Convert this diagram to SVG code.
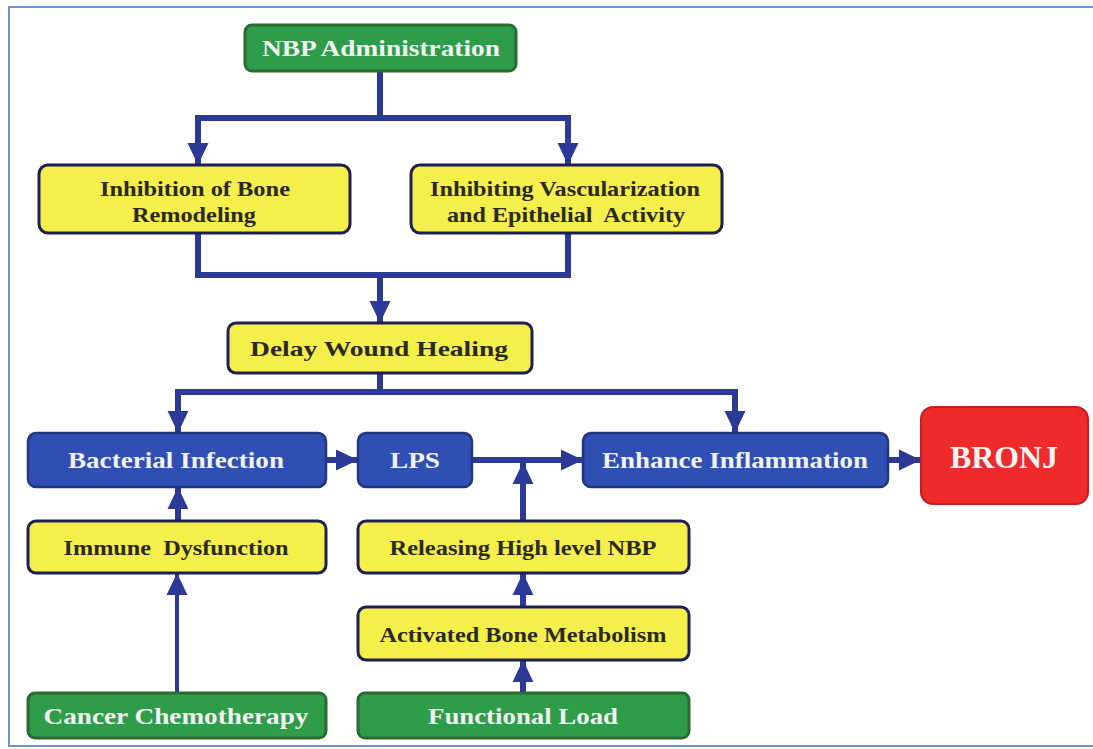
<svg xmlns="http://www.w3.org/2000/svg" width="1093" height="749" viewBox="0 0 1093 749">
<defs>
<style>
.frame{fill:none;stroke:#6f95c8;stroke-width:2}
.y{fill:#f4ef4b;stroke:#1f1f55;stroke-width:3}
.b{fill:#2f4fb2;stroke:#24357f;stroke-width:2.5}
.g{fill:#2e9c48;stroke:#2a6a33;stroke-width:3}
.r{fill:#ee2a2a;stroke:#c41e1e;stroke-width:2}
.t{font-family:"Liberation Serif","Times New Roman",serif;font-weight:bold;text-anchor:middle;dominant-baseline:central}
.ty{fill:#2a2a22;font-size:22px}
.tw{fill:#f2f2f2;font-size:23px}
.c{fill:none;stroke:#2b3a96;stroke-width:6}
.c2{fill:none;stroke:#2b3a96;stroke-width:4}
</style>
<marker id="ah" markerUnits="userSpaceOnUse" markerWidth="22" markerHeight="22" viewBox="0 0 20 20" refX="20" refY="10" orient="auto">
<path d="M0,0.5 L20,10 L0,19.5 Z" fill="#2b3a96"/>
</marker>
</defs>
<rect width="1093" height="749" fill="#ffffff"/>
<path class="frame" d="M1093,7 H9 V746 H1093"/>

<g id="connectors">
<path class="c" d="M380,70 V118"/>
<path class="c" d="M380,118 H198 V165" marker-end="url(#ah)"/>
<path class="c" d="M380,118 H568 V165" marker-end="url(#ah)"/>
<path class="c" d="M198,233 V275 H568 V233"/>
<path class="c" d="M380,275 V323" marker-end="url(#ah)"/>
<path class="c" d="M380,372 V392"/>
<path class="c" d="M380,392 H178 V433" marker-end="url(#ah)"/>
<path class="c" d="M380,392 H735 V433" marker-end="url(#ah)"/>
<path class="c" d="M326,460 H358" marker-end="url(#ah)"/>
<path class="c" d="M472,460 H583" marker-end="url(#ah)"/>
<path class="c" d="M888,460 H921" marker-end="url(#ah)"/>
<path class="c" d="M523,521 V462" marker-end="url(#ah)"/>
<path class="c" d="M178,520 V487" marker-end="url(#ah)"/>
<path class="c2" d="M177,693 V573" marker-end="url(#ah)"/>
<path class="c" d="M523,607 V573" marker-end="url(#ah)"/>
<path class="c" d="M523,693 V660" marker-end="url(#ah)"/>
</g>

<g id="nbp">
<rect class="g" x="245" y="25" width="271" height="46" rx="7"/>
<text class="t tw" x="381" y="48" textLength="238" lengthAdjust="spacingAndGlyphs">NBP Administration</text>
</g>
<g id="inhibition-bone">
<rect class="y" x="39" y="165" width="311" height="68" rx="9"/>
<text class="t ty" x="195" y="188" textLength="190" lengthAdjust="spacingAndGlyphs">Inhibition of Bone</text>
<text class="t ty" x="194" y="214" textLength="124" lengthAdjust="spacingAndGlyphs">Remodeling</text>
</g>
<g id="inhibiting-vasc">
<rect class="y" x="411" y="165" width="311" height="68" rx="9"/>
<text class="t ty" x="565" y="188" textLength="270" lengthAdjust="spacingAndGlyphs">Inhibiting Vascularization</text>
<text class="t ty" x="566" y="214" textLength="238" lengthAdjust="spacingAndGlyphs" xml:space="preserve">and Epithelial  Activity</text>
</g>
<g id="delay">
<rect class="y" x="228" y="323" width="304" height="50" rx="8"/>
<text class="t ty" x="379" y="348" textLength="258" lengthAdjust="spacingAndGlyphs">Delay Wound Healing</text>
</g>
<g id="bacterial">
<rect class="b" x="28" y="433" width="298" height="54" rx="8"/>
<text class="t tw" x="176" y="460" textLength="216" lengthAdjust="spacingAndGlyphs">Bacterial Infection</text>
</g>
<g id="lps">
<rect class="b" x="358" y="433" width="114" height="54" rx="8"/>
<text class="t tw" x="415" y="460" textLength="50" lengthAdjust="spacingAndGlyphs">LPS</text>
</g>
<g id="enhance">
<rect class="b" x="583" y="433" width="305" height="54" rx="8"/>
<text class="t tw" x="735" y="460" textLength="266" lengthAdjust="spacingAndGlyphs">Enhance Inflammation</text>
</g>
<g id="bronj">
<rect class="r" x="921" y="407" width="167" height="97" rx="12"/>
<text class="t" x="1004" y="457" fill="#f4f4f4" font-size="31" textLength="108" lengthAdjust="spacingAndGlyphs">BRONJ</text>
</g>
<g id="immune">
<rect class="y" x="28" y="521" width="298" height="52" rx="8"/>
<text class="t ty" x="176" y="547" textLength="225" lengthAdjust="spacingAndGlyphs" xml:space="preserve">Immune  Dysfunction</text>
</g>
<g id="releasing">
<rect class="y" x="358" y="521" width="331" height="52" rx="8"/>
<text class="t ty" x="523" y="547" textLength="267" lengthAdjust="spacingAndGlyphs">Releasing High level NBP</text>
</g>
<g id="activated">
<rect class="y" x="358" y="607" width="331" height="53" rx="8"/>
<text class="t ty" x="523" y="634" textLength="287" lengthAdjust="spacingAndGlyphs">Activated Bone Metabolism</text>
</g>
<g id="cancer">
<rect class="g" x="28" y="693" width="298" height="45" rx="7"/>
<text class="t tw" x="176" y="716" textLength="265" lengthAdjust="spacingAndGlyphs">Cancer Chemotherapy</text>
</g>
<g id="functional">
<rect class="g" x="358" y="693" width="331" height="45" rx="7"/>
<text class="t tw" x="523" y="716" textLength="190" lengthAdjust="spacingAndGlyphs">Functional Load</text>
</g>
</svg>
